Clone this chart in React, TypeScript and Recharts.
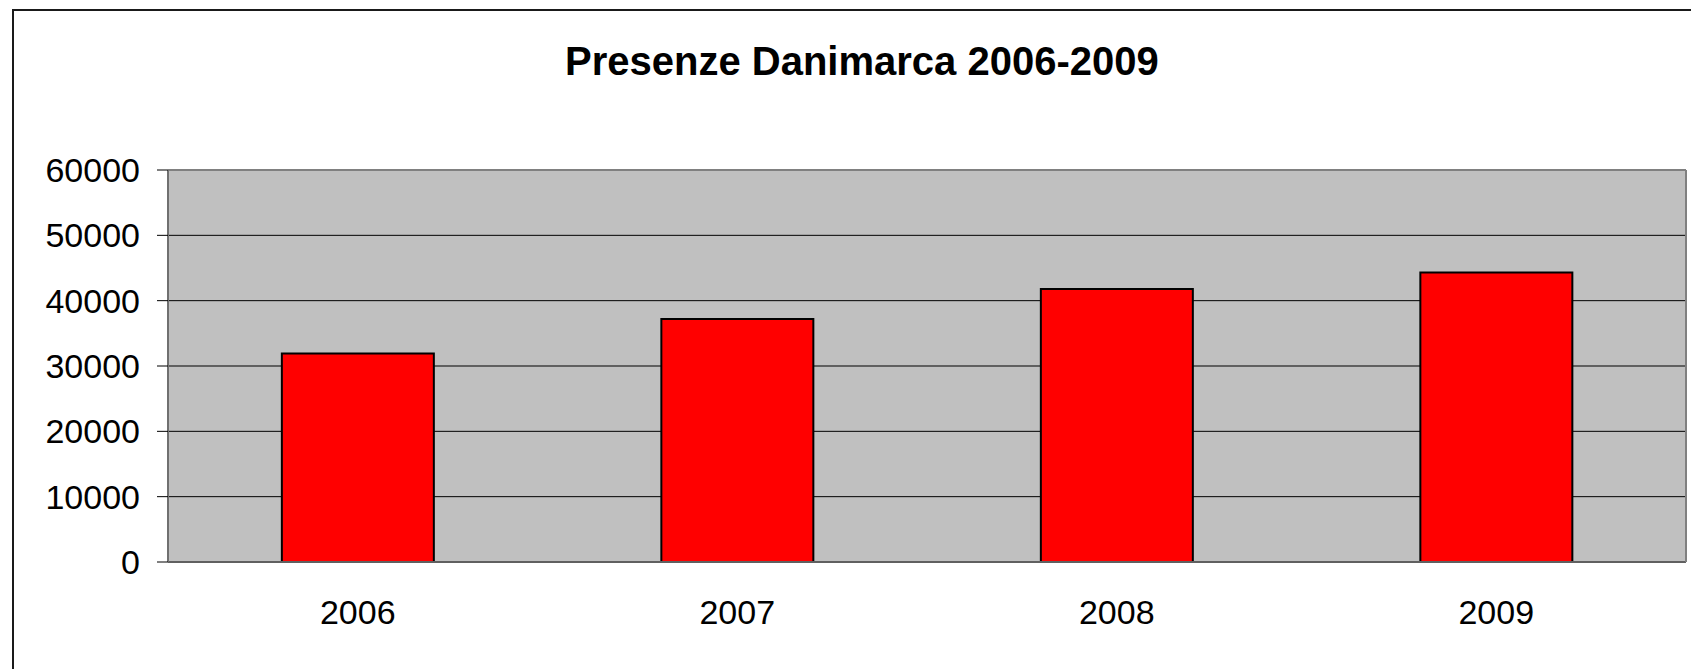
import React from 'react';
import { BarChart, Bar, XAxis, YAxis, CartesianGrid, ReferenceLine } from 'recharts';

const categories = ['2006', '2007', '2008', '2009'];
const presenze = [31900, 37200, 41800, 44300];
const yTicks = [0, 10000, 20000, 30000, 40000, 50000, 60000];
const boundaryTicks = [0, 1, 2, 3, 4];
const title = 'Presenze Danimarca 2006-2009';

const data = categories.map((c, i) => ({ year: c, value: presenze[i] }));

const FONT = '"Liberation Sans", Arial, Helvetica, sans-serif';

export default function App() {
  return (
    <div style={{ position: 'absolute', left: 0, top: 0, width: 1691, height: 669, overflow: 'hidden', background: '#fff' }}>
      <div
        style={{
          position: 'absolute',
          left: 12,
          top: 9,
          width: 1700,
          height: 700,
          borderTop: '2px solid #1a1a1a',
          borderLeft: '2px solid #1a1a1a',
          boxSizing: 'border-box',
        }}
      />
      <BarChart
        width={1691}
        height={669}
        data={data}
        margin={{ top: 170, right: 0, bottom: 0, left: 0 }}
        barCategoryGap="30%"
      >
        <CartesianGrid
          horizontal
          vertical={false}
          fill="#C0C0C0"
          stroke="#000"
          strokeWidth={1}
          yAxisId="left"
          xAxisId="cat"
          horizontalValues={yTicks}
        />
        <XAxis
          xAxisId={0}
          type="number"
          domain={[0, 4]}
          ticks={boundaryTicks}
          interval={0}
          allowDataOverflow
          height={0}
          axisLine={false}
          tick={false}
          tickLine={{ stroke: '#000', strokeWidth: 1 }}
          tickSize={10}
        />
        <XAxis
          xAxisId="cat"
          dataKey="year"
          type="category"
          height={107}
          axisLine={{ stroke: '#606060', strokeWidth: 2 }}
          tickLine={false}
          tickSize={0}
          tickMargin={38}
          interval={0}
          tick={{ fill: '#000', fontSize: 34, fontFamily: FONT }}
        />
        <YAxis
          yAxisId="left"
          domain={[0, 60000]}
          ticks={yTicks}
          interval={0}
          width={168}
          axisLine={{ stroke: '#707070', strokeWidth: 2 }}
          tickLine={{ stroke: '#000', strokeWidth: 1 }}
          tickSize={11}
          tickMargin={17}
          tick={{ fill: '#000', fontSize: 34, fontFamily: FONT }}
        />
        <YAxis
          yAxisId="right"
          orientation="right"
          domain={[0, 60000]}
          width={5}
          axisLine={{ stroke: '#808080', strokeWidth: 2 }}
          tickLine={false}
          tick={false}
        />
        <ReferenceLine yAxisId="left" xAxisId="cat" y={60000} stroke="#808080" strokeWidth={2} />
        <Bar
          xAxisId="cat"
          yAxisId="left"
          dataKey="value"
          fill="#FF0000"
          stroke="#000"
          strokeWidth={2}
          isAnimationActive={false}
        />
      </BarChart>
      <svg
        width={1691}
        height={669}
        style={{ position: 'absolute', left: 0, top: 0, pointerEvents: 'none' }}
      >
        <text x={565} y={75} fontFamily={FONT} fontWeight="bold" fontSize={40} fill="#000">
          {title}
        </text>
      </svg>
    </div>
  );
}
